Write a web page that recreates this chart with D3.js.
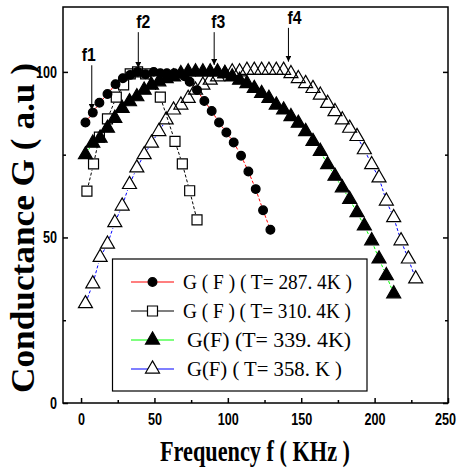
<!DOCTYPE html>
<html>
<head>
<meta charset="utf-8">
<script src="https://cdn.jsdelivr.net/npm/d3@7"></script>
<style>
    body { margin: 0; background: #fff; }
</style>
</head>
<body>
<div id="canvas"></div>
<script>
"use strict"

/* data */
let xTicks = [0, 50, 100, 150, 200, 250];
let xMinor = [25, 75, 125, 175, 225];
let yTicks = [0, 50, 100];
let yMinor = [25, 75];

let legendLabels = ["G ( F ) ( T= 287. 4K )", "G ( F ) ( T= 310. 4K )", "G(F) (T= 339.  4K)", "G(F)  ( T= 358. K )"];

/* T = 287.4 K, filled circles */
let circleF = [3, 8, 12.5, 18, 23.5, 28.5, 33.5, 38.5, 44, 49.5, 54, 58.5, 63.5, 70.5, 74, 79, 84, 89, 94, 99, 104, 109, 114, 119, 124, 129];
let circleG = [84.7, 87.7, 90.7, 93.3, 96.3, 98.1, 99.1, 100, 99.3, 100, 99.6, 99.6, 99.6, 98.7, 97, 94.5, 91.2, 88.2, 84.7, 81.7, 78.7, 74.7, 69.9, 64.6, 58.2, 52.3];

/* T = 310.4 K, open squares */
let squareF = [4, 8.5, 12.5, 18, 24, 29, 33.5, 38.5, 44, 54, 64, 69, 74, 79];
let squareG = [64, 72.2, 80.3, 85.8, 92.4, 96.1, 99.4, 100, 99.4, 92.4, 79, 72.2, 64.1, 55.3];

/* T = 339.4 K, filled triangles */
let triFillF = [3, 8, 13, 18, 23, 28, 33, 38, 43, 48, 53, 58, 63, 68, 73, 78, 83, 88, 93, 98, 103, 108, 113, 118, 123, 128, 133, 138, 143, 148, 153, 158, 163, 168, 173, 178, 183, 188, 193, 198, 203, 208, 213];
let triFillG = [75, 78.5, 80, 83, 86, 89, 91, 92.5, 94.5, 96, 97, 98, 98.5, 99.5, 100, 100, 100, 100, 100, 99.5, 98.5, 97.5, 96.5, 95, 93.5, 92, 90, 88.5, 86.5, 84.5, 82, 79, 76, 72, 68.5, 65, 61.5, 57.5, 53.5, 49, 43.5, 38.5, 33];

/* T = 358 K, open triangles */
let triOpenF = [3, 8, 13, 18, 23, 28, 33, 38, 43, 48, 53, 58, 63, 68, 73, 78, 83, 88, 93, 98, 103, 108, 113, 118, 123, 128, 133, 138, 143, 148, 153, 158, 163, 168, 173, 178, 183, 188, 193, 198, 203, 208, 213, 218, 223, 228];
let triOpenG = [30, 36, 44, 48, 54.5, 59.5, 66, 71, 75, 78.5, 82, 85.5, 88.5, 90, 92, 94.5, 96, 97.5, 98.5, 99.5, 100, 100, 100.5, 100.5, 100.5, 100.5, 100.5, 100.5, 99.5, 98, 96.5, 95, 93, 90.5, 88, 85.5, 83, 80.5, 76.5, 72, 68, 61, 56, 49, 43.5, 37.5];

/* f1..f4 arrows: frequency, arrow tip, arrow tail */
let markLabels = ["f1", "f2", "f3", "f4"];
let markF = [7.3, 39, 90.7, 141.3];
let markTip = [88.5, 101.2, 102.1, 103.1];
let markTail = [102, 112, 112, 113.3];

/* drawing canvas */
let drawing = d3.select("#canvas")
    .append("svg")
    .attr("width", 459)
    .attr("height", 470);

let xScale = d3.scaleLinear().domain([-12.3, 250]).range([63, 448]);
let yScale = d3.scaleLinear().domain([0, 119.6]).range([403, 7]);

/* frame */
drawing.append("rect")
    .attr("x", 63)
    .attr("y", 7)
    .attr("width", 385)
    .attr("height", 396)
    .attr("fill", "none")
    .attr("stroke", "black")
    .attr("stroke-width", 1.5);

let tickFont = "'Liberation Sans', Arial, sans-serif";

/* bottom axis */
drawing.append("g")
    .attr("transform", "translate(0,403)")
    .call(d3.axisBottom(xScale).tickValues(xTicks).tickSizeInner(-5).tickSizeOuter(0).tickPadding(11));
drawing.append("g")
    .attr("transform", "translate(0,403)")
    .call(d3.axisBottom(xScale).tickValues(xMinor).tickSizeInner(-3).tickSizeOuter(0).tickFormat(""));

/* left axis */
drawing.append("g")
    .attr("transform", "translate(63,0)")
    .call(d3.axisLeft(yScale).tickValues(yTicks).tickSizeInner(-5).tickSizeOuter(0).tickPadding(6));
drawing.append("g")
    .attr("transform", "translate(63,0)")
    .call(d3.axisLeft(yScale).tickValues(yMinor).tickSizeInner(-3).tickSizeOuter(0).tickFormat(""));

/* right axis, ticks only */
drawing.append("g")
    .attr("transform", "translate(448,0)")
    .call(d3.axisRight(yScale).tickValues(yTicks).tickSizeInner(-5).tickSizeOuter(0).tickFormat(""));
drawing.append("g")
    .attr("transform", "translate(448,0)")
    .call(d3.axisRight(yScale).tickValues(yMinor).tickSizeInner(-3).tickSizeOuter(0).tickFormat(""));

drawing.selectAll(".domain").remove();
drawing.selectAll(".tick line").attr("stroke", "black").attr("stroke-width", 1.5);
/* labels are narrow in the picture, so squeeze them */
drawing.selectAll(".tick text")
    .attr("fill", "black")
    .attr("textLength", function () { return this.textContent.length * 7; })
    .attr("lengthAdjust", "spacingAndGlyphs")
    .style("font-family", tickFont)
    .style("font-weight", "bold")
    .style("font-size", "16px");
/* last label sits on the window edge, nudge it in */
drawing.selectAll(".tick text")
    .filter(d => d == 250)
    .attr("dx", -3);

/* axis titles */
drawing.append("text")
    .attr("x", 255)
    .attr("y", 461)
    .attr("text-anchor", "middle")
    .attr("textLength", 190)
    .attr("lengthAdjust", "spacingAndGlyphs")
    .style("font-family", "'Liberation Serif', 'Times New Roman', serif")
    .style("font-weight", "bold")
    .style("font-size", "29px")
    .text("Frequency f ( KHz )");

drawing.append("text")
    .attr("transform", "translate(34,228) rotate(-90)")
    .attr("text-anchor", "middle")
    .attr("textLength", 330)
    .attr("lengthAdjust", "spacingAndGlyphs")
    .style("font-family", "'Liberation Serif', 'Times New Roman', serif")
    .style("font-weight", "bold")
    .style("font-size", "34px")
    .text("Conductance G ( a.u )");

/* marker shapes */
let circleSym = d3.symbol().type(d3.symbolCircle).size(60);
let squareSym = d3.symbol().type(d3.symbolSquare).size(100);
let triSym = d3.symbol().type(d3.symbolTriangle).size(85);

/* line between points, cut back near each marker like Origin does */
function gapSegments(fs, gs, gap) {
    let segs = [];
    for (let i = 0; i < fs.length - 1; i++) {
        let x1 = xScale(fs[i]), y1 = yScale(gs[i]);
        let x2 = xScale(fs[i + 1]), y2 = yScale(gs[i + 1]);
        let len = Math.hypot(x2 - x1, y2 - y1);
        if (len <= 2 * gap + 1) continue;
        let ux = (x2 - x1) / len, uy = (y2 - y1) / len;
        segs.push([x1 + ux * gap, y1 + uy * gap, x2 - ux * gap, y2 - uy * gap]);
    }
    return segs;
}

let series = [
    { f: circleF, g: circleG, color: "red", sym: circleSym, fill: "black", gap: 5 },
    { f: squareF, g: squareG, color: "black", sym: squareSym, fill: "none", gap: 6 },
    { f: triFillF, g: triFillG, color: "#00ff00", sym: triSym, fill: "black", gap: 6 },
    { f: triOpenF, g: triOpenG, color: "blue", sym: triSym, fill: "none", gap: 6 }
];

series.forEach(function (s) {
    drawing.append("g")
        .selectAll("line")
        .data(gapSegments(s.f, s.g, s.gap))
        .join("line")
        .attr("x1", d => d[0])
        .attr("y1", d => d[1])
        .attr("x2", d => d[2])
        .attr("y2", d => d[3])
        .attr("stroke", s.color)
        .attr("stroke-width", 1)
        .attr("stroke-dasharray", "3,2");
});

series.forEach(function (s) {
    drawing.append("g")
        .selectAll("path")
        .data(s.f)
        .join("path")
        .attr("d", s.sym)
        .attr("transform", (d, i) => "translate(" + xScale(d) + "," + yScale(s.g[i]) + ")")
        .attr("fill", s.fill)
        .attr("stroke", "black")
        .attr("stroke-width", 1.2);
});

/* f1..f4 arrows */
drawing.append("defs")
    .append("marker")
    .attr("id", "head")
    .attr("viewBox", "0 0 10 10")
    .attr("refX", 10)
    .attr("refY", 5)
    .attr("markerWidth", 6)
    .attr("markerHeight", 6)
    .attr("markerUnits", "userSpaceOnUse")
    .attr("orient", "auto")
    .append("path")
    .attr("d", "M0,0 L10,5 L0,10 Z")
    .attr("fill", "black");

let labelShift = [-3, 5, 4, 6];
markLabels.forEach(function (lab, i) {
    drawing.append("line")
        .attr("x1", xScale(markF[i]))
        .attr("y1", yScale(markTail[i]))
        .attr("x2", xScale(markF[i]))
        .attr("y2", yScale(markTip[i]))
        .attr("stroke", "black")
        .attr("stroke-width", 1)
        .attr("marker-end", "url(#head)");
    drawing.append("text")
        .attr("x", xScale(markF[i]) + labelShift[i])
        .attr("y", yScale(markTail[i]) - 4)
        .attr("text-anchor", "middle")
        .attr("textLength", 14)
        .attr("lengthAdjust", "spacingAndGlyphs")
        .style("font-family", tickFont)
        .style("font-weight", "bold")
        .style("font-size", "18px")
        .text(lab);
});

/* legend */
let legend = drawing.append("g");
legend.append("rect")
    .attr("x", 112.5)
    .attr("y", 259)
    .attr("width", 254.5)
    .attr("height", 132)
    .attr("fill", "white")
    .attr("stroke", "black")
    .attr("stroke-width", 1.2);

let rowY = [282, 311, 340, 369];
let textX = [183, 183, 187, 187];
let textW = [169, 168, 164, 155];
series.forEach(function (s, i) {
    legend.append("line")
        .attr("x1", 131)
        .attr("x2", 174)
        .attr("y1", rowY[i])
        .attr("y2", rowY[i])
        .attr("stroke", s.color)
        .attr("stroke-width", 1.2);
    legend.append("path")
        .attr("d", s.sym)
        .attr("transform", "translate(152.5," + rowY[i] + ")")
        .attr("fill", s.fill == "none" ? "white" : s.fill)
        .attr("stroke", "black")
        .attr("stroke-width", 1.2);
    legend.append("text")
        .attr("x", textX[i])
        .attr("y", rowY[i] + 7)
        .attr("textLength", textW[i])
        .attr("lengthAdjust", "spacingAndGlyphs")
        .style("font-family", "'Liberation Serif', 'Times New Roman', serif")
        .style("font-size", "22px")
        .text(legendLabels[i]);
});
</script>
</body>
</html>
